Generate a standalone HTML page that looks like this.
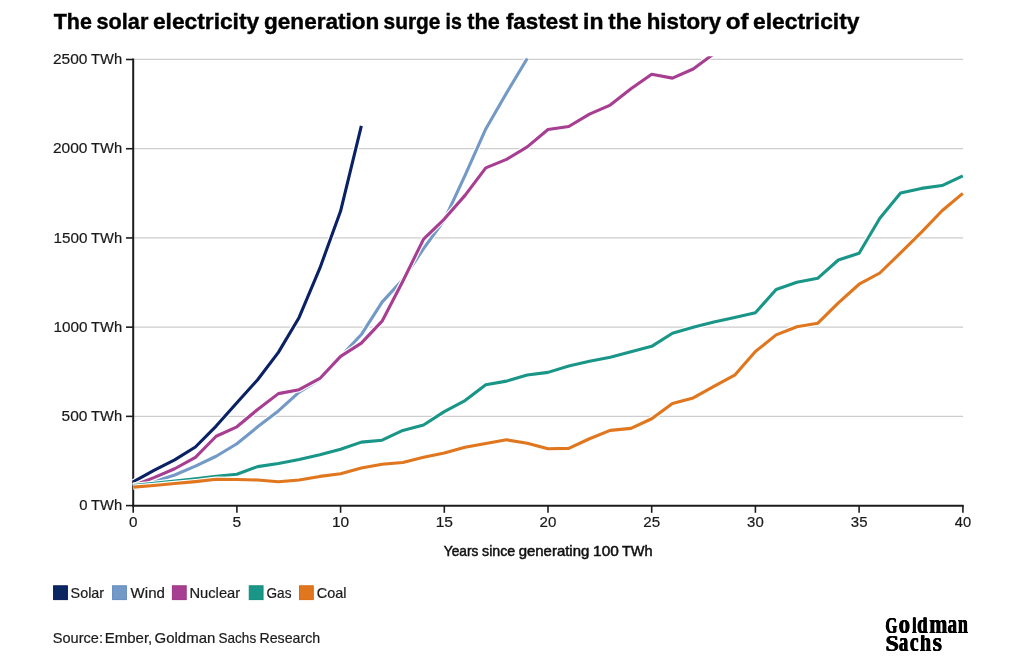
<!DOCTYPE html>
<html><head><meta charset="utf-8"><title>Solar surge</title>
<style>
html,body{margin:0;padding:0;background:#fff;}
body{width:1024px;height:663px;overflow:hidden;font-family:"Liberation Sans",sans-serif;}
svg{display:block;will-change:transform;}
text{font-family:"Liberation Sans",sans-serif;}
</style></head><body>
<svg width="1024" height="663" viewBox="0 0 1024 663">
<rect width="1024" height="663" fill="#fff"/>

<g stroke="#cdcdcd" stroke-width="1.3">
<line x1="134" x2="963" y1="416.28" y2="416.28"/>
<line x1="134" x2="963" y1="327.06" y2="327.06"/>
<line x1="134" x2="963" y1="237.84" y2="237.84"/>
<line x1="134" x2="963" y1="148.62" y2="148.62"/>
<line x1="134" x2="963" y1="59.40" y2="59.40"/>
</g>
<g stroke="#1c1c1c" stroke-width="2">
<line x1="133.20" x2="133.20" y1="58.50" y2="506.70"/>
<line x1="132.20" x2="963.70" y1="505.70" y2="505.70"/>
</g>
<g stroke="#1c1c1c" stroke-width="1.6">
<line x1="126" x2="133" y1="505.60" y2="505.60"/>
<line x1="126" x2="133" y1="416.38" y2="416.38"/>
<line x1="126" x2="133" y1="327.16" y2="327.16"/>
<line x1="126" x2="133" y1="237.94" y2="237.94"/>
<line x1="126" x2="133" y1="148.72" y2="148.72"/>
<line x1="126" x2="133" y1="59.50" y2="59.50"/>
<line x1="133.20" x2="133.20" y1="505.50" y2="512.8"/>
<line x1="236.90" x2="236.90" y1="505.50" y2="512.8"/>
<line x1="340.60" x2="340.60" y1="505.50" y2="512.8"/>
<line x1="444.30" x2="444.30" y1="505.50" y2="512.8"/>
<line x1="548.00" x2="548.00" y1="505.50" y2="512.8"/>
<line x1="651.70" x2="651.70" y1="505.50" y2="512.8"/>
<line x1="755.40" x2="755.40" y1="505.50" y2="512.8"/>
<line x1="859.10" x2="859.10" y1="505.50" y2="512.8"/>
<line x1="962.90" x2="962.90" y1="505.50" y2="512.8"/>
</g>
<defs><clipPath id="cp"><rect x="120" y="56.2" width="860" height="460"/></clipPath></defs>
<g fill="none" stroke-linejoin="round" stroke-linecap="butt" clip-path="url(#cp)">
<path d="M133.20 481.95 L153.94 470.35 L174.68 459.82 L195.42 446.97 L216.16 426.09 L236.90 402.72 L257.64 379.70 L278.38 352.40 L299.12 317.42 L319.86 268.17 L340.60 211.07 L361.34 125.78" stroke="#fff" stroke-width="5.4"/>
<path d="M133.20 481.95 L153.94 470.35 L174.68 459.82 L195.42 446.97 L216.16 426.09 L236.90 402.72 L257.64 379.70 L278.38 352.40 L299.12 317.42 L319.86 268.17 L340.60 211.07 L361.34 125.78" stroke="#0a2265" stroke-width="3.1"/>
<path d="M133.20 486.94 L153.94 481.77 L174.68 474.99 L195.42 466.06 L216.16 456.25 L236.90 443.76 L257.64 426.81 L278.38 410.93 L299.12 392.19 L319.86 379.52 L340.60 356.50 L361.34 334.55 L382.08 302.08 L402.82 279.59 L423.56 248.55 L444.30 220.00 L465.04 175.39 L485.78 128.99 L506.52 92.95 L527.26 58.51" stroke="#fff" stroke-width="5.4"/>
<path d="M133.20 486.94 L153.94 481.77 L174.68 474.99 L195.42 466.06 L216.16 456.25 L236.90 443.76 L257.64 426.81 L278.38 410.93 L299.12 392.19 L319.86 379.52 L340.60 356.50 L361.34 334.55 L382.08 302.08 L402.82 279.59 L423.56 248.55 L444.30 220.00 L465.04 175.39 L485.78 128.99 L506.52 92.95 L527.26 58.51" stroke="#7399c6" stroke-width="3.1"/>
<path d="M133.20 485.69 L153.94 477.66 L174.68 468.74 L195.42 457.32 L216.16 436.27 L236.90 426.81 L257.64 409.50 L278.38 393.62 L299.12 389.69 L319.86 378.45 L340.60 356.32 L361.34 343.12 L382.08 321.17 L402.82 281.20 L423.56 239.09 L444.30 219.10 L465.04 195.37 L485.78 167.89 L506.52 159.33 L527.26 146.84 L548.00 129.53 L568.74 126.49 L589.48 114.18 L610.22 105.08 L630.96 88.84 L651.70 74.21 L672.44 78.14 L693.18 69.04 L713.92 53.69" stroke="#fff" stroke-width="5.4"/>
<path d="M133.20 485.69 L153.94 477.66 L174.68 468.74 L195.42 457.32 L216.16 436.27 L236.90 426.81 L257.64 409.50 L278.38 393.62 L299.12 389.69 L319.86 378.45 L340.60 356.32 L361.34 343.12 L382.08 321.17 L402.82 281.20 L423.56 239.09 L444.30 219.10 L465.04 195.37 L485.78 167.89 L506.52 159.33 L527.26 146.84 L548.00 129.53 L568.74 126.49 L589.48 114.18 L610.22 105.08 L630.96 88.84 L651.70 74.21 L672.44 78.14 L693.18 69.04 L713.92 53.69" stroke="#a73e92" stroke-width="3.1"/>
<path d="M133.20 485.51 L153.94 483.37 L174.68 481.05 L195.42 478.73 L216.16 476.24 L236.90 474.27 L257.64 466.60 L278.38 463.57 L299.12 459.46 L319.86 454.82 L340.60 449.29 L361.34 442.15 L382.08 440.19 L402.82 430.38 L423.56 425.02 L444.30 411.64 L465.04 400.58 L485.78 384.70 L506.52 381.13 L527.26 375.06 L548.00 372.38 L568.74 365.96 L589.48 361.32 L610.22 357.22 L630.96 351.68 L651.70 346.33 L672.44 333.31 L693.18 327.24 L713.92 322.06 L734.66 317.42 L755.40 312.78 L776.14 289.41 L796.88 282.27 L817.62 278.35 L838.36 259.97 L859.10 253.19 L879.84 218.21 L900.58 193.05 L921.32 188.41 L942.06 185.56 L962.80 175.92" stroke="#fff" stroke-width="5.4"/>
<path d="M133.20 485.51 L153.94 483.37 L174.68 481.05 L195.42 478.73 L216.16 476.24 L236.90 474.27 L257.64 466.60 L278.38 463.57 L299.12 459.46 L319.86 454.82 L340.60 449.29 L361.34 442.15 L382.08 440.19 L402.82 430.38 L423.56 425.02 L444.30 411.64 L465.04 400.58 L485.78 384.70 L506.52 381.13 L527.26 375.06 L548.00 372.38 L568.74 365.96 L589.48 361.32 L610.22 357.22 L630.96 351.68 L651.70 346.33 L672.44 333.31 L693.18 327.24 L713.92 322.06 L734.66 317.42 L755.40 312.78 L776.14 289.41 L796.88 282.27 L817.62 278.35 L838.36 259.97 L859.10 253.19 L879.84 218.21 L900.58 193.05 L921.32 188.41 L942.06 185.56 L962.80 175.92" stroke="#1a9688" stroke-width="3.1"/>
<path d="M133.20 487.12 L153.94 485.51 L174.68 483.55 L195.42 481.59 L216.16 479.27 L236.90 479.45 L257.64 479.98 L278.38 481.77 L299.12 479.98 L319.86 476.41 L340.60 473.74 L361.34 468.03 L382.08 464.28 L402.82 462.50 L423.56 457.32 L444.30 453.04 L465.04 447.33 L485.78 443.58 L506.52 439.83 L527.26 443.22 L548.00 448.76 L568.74 448.40 L589.48 438.76 L610.22 430.38 L630.96 428.41 L651.70 418.78 L672.44 403.61 L693.18 397.90 L713.92 386.30 L734.66 375.24 L755.40 351.51 L776.14 334.91 L796.88 326.70 L817.62 323.31 L838.36 302.79 L859.10 284.23 L879.84 272.99 L900.58 252.83 L921.32 232.31 L942.06 210.72 L962.80 193.41" stroke="#fff" stroke-width="5.4"/>
<path d="M133.20 487.12 L153.94 485.51 L174.68 483.55 L195.42 481.59 L216.16 479.27 L236.90 479.45 L257.64 479.98 L278.38 481.77 L299.12 479.98 L319.86 476.41 L340.60 473.74 L361.34 468.03 L382.08 464.28 L402.82 462.50 L423.56 457.32 L444.30 453.04 L465.04 447.33 L485.78 443.58 L506.52 439.83 L527.26 443.22 L548.00 448.76 L568.74 448.40 L589.48 438.76 L610.22 430.38 L630.96 428.41 L651.70 418.78 L672.44 403.61 L693.18 397.90 L713.92 386.30 L734.66 375.24 L755.40 351.51 L776.14 334.91 L796.88 326.70 L817.62 323.31 L838.36 302.79 L859.10 284.23 L879.84 272.99 L900.58 252.83 L921.32 232.31 L942.06 210.72 L962.80 193.41" stroke="#e0761e" stroke-width="3.1"/>
</g>
<rect x="53.60" y="585.8" width="13.8" height="13.8" fill="#0a2762" stroke="#061a58" stroke-width="1"/>
<rect x="112.60" y="585.8" width="13.8" height="13.8" fill="#7399c6" stroke="#618cc0" stroke-width="1"/>
<rect x="172.40" y="585.8" width="13.8" height="13.8" fill="#a73e92" stroke="#9c3587" stroke-width="1"/>
<rect x="249.25" y="585.8" width="13.8" height="13.8" fill="#1a9688" stroke="#118c7e" stroke-width="1"/>
<rect x="299.50" y="585.8" width="13.8" height="13.8" fill="#e0761e" stroke="#d96c12" stroke-width="1"/>
<text x="53.74" y="29.30" style="font:bold 21.80px 'Liberation Sans'" textLength="38.18" lengthAdjust="spacingAndGlyphs" fill="#000" stroke="#000" stroke-width="0.4">The</text>
<text x="96.59" y="29.30" style="font:bold 21.80px 'Liberation Sans'" textLength="51.76" lengthAdjust="spacingAndGlyphs" fill="#000" stroke="#000" stroke-width="0.4">solar</text>
<text x="152.95" y="29.30" style="font:bold 21.80px 'Liberation Sans'" textLength="106.22" lengthAdjust="spacingAndGlyphs" fill="#000" stroke="#000" stroke-width="0.4">electricity</text>
<text x="264.05" y="29.30" style="font:bold 21.80px 'Liberation Sans'" textLength="115.27" lengthAdjust="spacingAndGlyphs" fill="#000" stroke="#000" stroke-width="0.4">generation</text>
<text x="383.62" y="29.30" style="font:bold 21.80px 'Liberation Sans'" textLength="56.88" lengthAdjust="spacingAndGlyphs" fill="#000" stroke="#000" stroke-width="0.4">surge</text>
<text x="445.48" y="29.30" style="font:bold 21.80px 'Liberation Sans'" textLength="16.33" lengthAdjust="spacingAndGlyphs" fill="#000" stroke="#000" stroke-width="0.4">is</text>
<text x="467.33" y="29.30" style="font:bold 21.80px 'Liberation Sans'" textLength="32.49" lengthAdjust="spacingAndGlyphs" fill="#000" stroke="#000" stroke-width="0.4">the</text>
<text x="505.91" y="29.30" style="font:bold 21.80px 'Liberation Sans'" textLength="72.11" lengthAdjust="spacingAndGlyphs" fill="#000" stroke="#000" stroke-width="0.4">fastest</text>
<text x="583.06" y="29.30" style="font:bold 21.80px 'Liberation Sans'" textLength="20.39" lengthAdjust="spacingAndGlyphs" fill="#000" stroke="#000" stroke-width="0.4">in</text>
<text x="608.33" y="29.30" style="font:bold 21.80px 'Liberation Sans'" textLength="33.11" lengthAdjust="spacingAndGlyphs" fill="#000" stroke="#000" stroke-width="0.4">the</text>
<text x="646.70" y="29.30" style="font:bold 21.80px 'Liberation Sans'" textLength="74.48" lengthAdjust="spacingAndGlyphs" fill="#000" stroke="#000" stroke-width="0.4">history</text>
<text x="725.70" y="29.30" style="font:bold 21.80px 'Liberation Sans'" textLength="22.90" lengthAdjust="spacingAndGlyphs" fill="#000" stroke="#000" stroke-width="0.4">of</text>
<text x="753.05" y="29.30" style="font:bold 21.80px 'Liberation Sans'" textLength="106.42" lengthAdjust="spacingAndGlyphs" fill="#000" stroke="#000" stroke-width="0.4">electricity</text>
<text x="79.18" y="510.30" style="font:normal 14.60px 'Liberation Sans'" textLength="8.26" lengthAdjust="spacingAndGlyphs" fill="#1a1a1a" stroke="#1a1a1a" stroke-width="0.2">0</text>
<text x="91.01" y="510.30" style="font:normal 14.60px 'Liberation Sans'" textLength="31.10" lengthAdjust="spacingAndGlyphs" fill="#1a1a1a" stroke="#1a1a1a" stroke-width="0.2">TWh</text>
<text x="61.58" y="421.08" style="font:normal 14.60px 'Liberation Sans'" textLength="25.88" lengthAdjust="spacingAndGlyphs" fill="#1a1a1a" stroke="#1a1a1a" stroke-width="0.2">500</text>
<text x="91.01" y="421.08" style="font:normal 14.60px 'Liberation Sans'" textLength="31.10" lengthAdjust="spacingAndGlyphs" fill="#1a1a1a" stroke="#1a1a1a" stroke-width="0.2">TWh</text>
<text x="53.51" y="331.86" style="font:normal 14.60px 'Liberation Sans'" textLength="33.95" lengthAdjust="spacingAndGlyphs" fill="#1a1a1a" stroke="#1a1a1a" stroke-width="0.2">1000</text>
<text x="91.01" y="331.86" style="font:normal 14.60px 'Liberation Sans'" textLength="31.10" lengthAdjust="spacingAndGlyphs" fill="#1a1a1a" stroke="#1a1a1a" stroke-width="0.2">TWh</text>
<text x="53.51" y="242.64" style="font:normal 14.60px 'Liberation Sans'" textLength="33.95" lengthAdjust="spacingAndGlyphs" fill="#1a1a1a" stroke="#1a1a1a" stroke-width="0.2">1500</text>
<text x="91.01" y="242.64" style="font:normal 14.60px 'Liberation Sans'" textLength="31.10" lengthAdjust="spacingAndGlyphs" fill="#1a1a1a" stroke="#1a1a1a" stroke-width="0.2">TWh</text>
<text x="52.92" y="153.42" style="font:normal 14.60px 'Liberation Sans'" textLength="34.54" lengthAdjust="spacingAndGlyphs" fill="#1a1a1a" stroke="#1a1a1a" stroke-width="0.2">2000</text>
<text x="91.01" y="153.42" style="font:normal 14.60px 'Liberation Sans'" textLength="31.10" lengthAdjust="spacingAndGlyphs" fill="#1a1a1a" stroke="#1a1a1a" stroke-width="0.2">TWh</text>
<text x="52.92" y="64.20" style="font:normal 14.60px 'Liberation Sans'" textLength="34.54" lengthAdjust="spacingAndGlyphs" fill="#1a1a1a" stroke="#1a1a1a" stroke-width="0.2">2500</text>
<text x="91.01" y="64.20" style="font:normal 14.60px 'Liberation Sans'" textLength="31.10" lengthAdjust="spacingAndGlyphs" fill="#1a1a1a" stroke="#1a1a1a" stroke-width="0.2">TWh</text>
<text x="128.97" y="526.70" style="font:normal 14.60px 'Liberation Sans'" textLength="8.49" lengthAdjust="spacingAndGlyphs" fill="#1a1a1a" stroke="#1a1a1a" stroke-width="0.2">0</text>
<text x="232.58" y="526.70" style="font:normal 14.60px 'Liberation Sans'" textLength="8.66" lengthAdjust="spacingAndGlyphs" fill="#1a1a1a" stroke="#1a1a1a" stroke-width="0.2">5</text>
<text x="331.99" y="526.70" style="font:normal 14.60px 'Liberation Sans'" textLength="17.22" lengthAdjust="spacingAndGlyphs" fill="#1a1a1a" stroke="#1a1a1a" stroke-width="0.2">10</text>
<text x="435.68" y="526.70" style="font:normal 14.60px 'Liberation Sans'" textLength="17.31" lengthAdjust="spacingAndGlyphs" fill="#1a1a1a" stroke="#1a1a1a" stroke-width="0.2">15</text>
<text x="539.49" y="526.70" style="font:normal 14.60px 'Liberation Sans'" textLength="16.80" lengthAdjust="spacingAndGlyphs" fill="#1a1a1a" stroke="#1a1a1a" stroke-width="0.2">20</text>
<text x="643.19" y="526.70" style="font:normal 14.60px 'Liberation Sans'" textLength="16.88" lengthAdjust="spacingAndGlyphs" fill="#1a1a1a" stroke="#1a1a1a" stroke-width="0.2">25</text>
<text x="747.13" y="526.70" style="font:normal 14.60px 'Liberation Sans'" textLength="16.56" lengthAdjust="spacingAndGlyphs" fill="#1a1a1a" stroke="#1a1a1a" stroke-width="0.2">30</text>
<text x="850.83" y="526.70" style="font:normal 14.60px 'Liberation Sans'" textLength="16.64" lengthAdjust="spacingAndGlyphs" fill="#1a1a1a" stroke="#1a1a1a" stroke-width="0.2">35</text>
<text x="954.76" y="526.70" style="font:normal 14.60px 'Liberation Sans'" textLength="16.32" lengthAdjust="spacingAndGlyphs" fill="#1a1a1a" stroke="#1a1a1a" stroke-width="0.2">40</text>
<text x="443.83" y="555.70" style="font:normal 14.50px 'Liberation Sans'" textLength="34.55" lengthAdjust="spacingAndGlyphs" fill="#111" stroke="#111" stroke-width="0.5">Years</text>
<text x="482.05" y="555.70" style="font:normal 14.50px 'Liberation Sans'" textLength="33.14" lengthAdjust="spacingAndGlyphs" fill="#111" stroke="#111" stroke-width="0.5">since</text>
<text x="518.70" y="555.70" style="font:normal 14.50px 'Liberation Sans'" textLength="70.61" lengthAdjust="spacingAndGlyphs" fill="#111" stroke="#111" stroke-width="0.5">generating</text>
<text x="593.14" y="555.70" style="font:normal 14.50px 'Liberation Sans'" textLength="25.71" lengthAdjust="spacingAndGlyphs" fill="#111" stroke="#111" stroke-width="0.5">100</text>
<text x="621.91" y="555.70" style="font:normal 14.50px 'Liberation Sans'" textLength="30.68" lengthAdjust="spacingAndGlyphs" fill="#111" stroke="#111" stroke-width="0.5">TWh</text>
<text x="70.60" y="598.20" style="font:normal 14.30px 'Liberation Sans'" textLength="33.48" lengthAdjust="spacingAndGlyphs" fill="#1a1a1a" stroke="#1a1a1a" stroke-width="0.2">Solar</text>
<text x="130.60" y="598.20" style="font:normal 14.30px 'Liberation Sans'" textLength="34.32" lengthAdjust="spacingAndGlyphs" fill="#1a1a1a" stroke="#1a1a1a" stroke-width="0.2">Wind</text>
<text x="189.42" y="598.20" style="font:normal 14.30px 'Liberation Sans'" textLength="50.77" lengthAdjust="spacingAndGlyphs" fill="#1a1a1a" stroke="#1a1a1a" stroke-width="0.2">Nuclear</text>
<text x="266.52" y="598.20" style="font:normal 14.30px 'Liberation Sans'" textLength="24.96" lengthAdjust="spacingAndGlyphs" fill="#1a1a1a" stroke="#1a1a1a" stroke-width="0.2">Gas</text>
<text x="316.78" y="598.20" style="font:normal 14.30px 'Liberation Sans'" textLength="29.72" lengthAdjust="spacingAndGlyphs" fill="#1a1a1a" stroke="#1a1a1a" stroke-width="0.2">Coal</text>
<text x="52.74" y="642.80" style="font:normal 14.30px 'Liberation Sans'" textLength="50.24" lengthAdjust="spacingAndGlyphs" fill="#1a1a1a" stroke="#1a1a1a" stroke-width="0.2">Source:</text>
<text x="104.80" y="642.80" style="font:normal 14.30px 'Liberation Sans'" textLength="47.41" lengthAdjust="spacingAndGlyphs" fill="#1a1a1a" stroke="#1a1a1a" stroke-width="0.2">Ember,</text>
<text x="154.55" y="642.80" style="font:normal 14.30px 'Liberation Sans'" textLength="60.76" lengthAdjust="spacingAndGlyphs" fill="#1a1a1a" stroke="#1a1a1a" stroke-width="0.2">Goldman</text>
<text x="218.59" y="642.80" style="font:normal 14.30px 'Liberation Sans'" textLength="37.58" lengthAdjust="spacingAndGlyphs" fill="#1a1a1a" stroke="#1a1a1a" stroke-width="0.2">Sachs</text>
<text x="259.47" y="642.80" style="font:normal 14.30px 'Liberation Sans'" textLength="60.70" lengthAdjust="spacingAndGlyphs" fill="#1a1a1a" stroke="#1a1a1a" stroke-width="0.2">Research</text>
<defs><clipPath id="l1"><rect x="880" y="617.4" width="100" height="17.6"/></clipPath><clipPath id="l2"><rect x="880" y="635.3" width="100" height="18"/></clipPath></defs>
<g clip-path="url(#l1)">
<text x="884.90" y="632.80" style="font:bold 23.50px 'Liberation Serif'" textLength="12.05" lengthAdjust="spacingAndGlyphs" fill="#000">G</text>
<text x="885.30" y="632.80" style="font:bold 23.50px 'Liberation Serif'" textLength="12.05" lengthAdjust="spacingAndGlyphs" fill="#000">G</text>
<text x="885.70" y="632.80" style="font:bold 23.50px 'Liberation Serif'" textLength="12.05" lengthAdjust="spacingAndGlyphs" fill="#000">G</text>
<text x="898.30" y="632.80" style="font:bold 27.00px 'Liberation Serif'" textLength="11.40" lengthAdjust="spacingAndGlyphs" fill="#000">o</text>
<text x="898.70" y="632.80" style="font:bold 27.00px 'Liberation Serif'" textLength="11.40" lengthAdjust="spacingAndGlyphs" fill="#000">o</text>
<text x="899.10" y="632.80" style="font:bold 27.00px 'Liberation Serif'" textLength="11.40" lengthAdjust="spacingAndGlyphs" fill="#000">o</text>
<text x="911.66" y="632.80" style="font:bold 27.00px 'Liberation Serif'" textLength="4.45" lengthAdjust="spacingAndGlyphs" fill="#000">l</text>
<text x="912.06" y="632.80" style="font:bold 27.00px 'Liberation Serif'" textLength="4.45" lengthAdjust="spacingAndGlyphs" fill="#000">l</text>
<text x="912.46" y="632.80" style="font:bold 27.00px 'Liberation Serif'" textLength="4.45" lengthAdjust="spacingAndGlyphs" fill="#000">l</text>
<text x="916.86" y="632.80" style="font:bold 27.00px 'Liberation Serif'" textLength="10.24" lengthAdjust="spacingAndGlyphs" fill="#000">d</text>
<text x="917.26" y="632.80" style="font:bold 27.00px 'Liberation Serif'" textLength="10.24" lengthAdjust="spacingAndGlyphs" fill="#000">d</text>
<text x="917.66" y="632.80" style="font:bold 27.00px 'Liberation Serif'" textLength="10.24" lengthAdjust="spacingAndGlyphs" fill="#000">d</text>
<text x="928.96" y="632.80" style="font:bold 27.00px 'Liberation Serif'" textLength="18.02" lengthAdjust="spacingAndGlyphs" fill="#000">m</text>
<text x="929.36" y="632.80" style="font:bold 27.00px 'Liberation Serif'" textLength="18.02" lengthAdjust="spacingAndGlyphs" fill="#000">m</text>
<text x="929.76" y="632.80" style="font:bold 27.00px 'Liberation Serif'" textLength="18.02" lengthAdjust="spacingAndGlyphs" fill="#000">m</text>
<text x="947.13" y="632.80" style="font:bold 27.00px 'Liberation Serif'" textLength="9.45" lengthAdjust="spacingAndGlyphs" fill="#000">a</text>
<text x="947.53" y="632.80" style="font:bold 27.00px 'Liberation Serif'" textLength="9.45" lengthAdjust="spacingAndGlyphs" fill="#000">a</text>
<text x="947.93" y="632.80" style="font:bold 27.00px 'Liberation Serif'" textLength="9.45" lengthAdjust="spacingAndGlyphs" fill="#000">a</text>
<text x="957.55" y="632.80" style="font:bold 27.00px 'Liberation Serif'" textLength="9.95" lengthAdjust="spacingAndGlyphs" fill="#000">n</text>
<text x="957.95" y="632.80" style="font:bold 27.00px 'Liberation Serif'" textLength="9.95" lengthAdjust="spacingAndGlyphs" fill="#000">n</text>
<text x="958.35" y="632.80" style="font:bold 27.00px 'Liberation Serif'" textLength="9.95" lengthAdjust="spacingAndGlyphs" fill="#000">n</text>
</g><g clip-path="url(#l2)">
<text x="885.10" y="651.00" style="font:bold 23.50px 'Liberation Serif'" textLength="13.40" lengthAdjust="spacingAndGlyphs" fill="#000">S</text>
<text x="885.50" y="651.00" style="font:bold 23.50px 'Liberation Serif'" textLength="13.40" lengthAdjust="spacingAndGlyphs" fill="#000">S</text>
<text x="885.90" y="651.00" style="font:bold 23.50px 'Liberation Serif'" textLength="13.40" lengthAdjust="spacingAndGlyphs" fill="#000">S</text>
<text x="898.54" y="651.00" style="font:bold 27.00px 'Liberation Serif'" textLength="9.34" lengthAdjust="spacingAndGlyphs" fill="#000">a</text>
<text x="898.94" y="651.00" style="font:bold 27.00px 'Liberation Serif'" textLength="9.34" lengthAdjust="spacingAndGlyphs" fill="#000">a</text>
<text x="899.34" y="651.00" style="font:bold 27.00px 'Liberation Serif'" textLength="9.34" lengthAdjust="spacingAndGlyphs" fill="#000">a</text>
<text x="909.52" y="651.00" style="font:bold 27.00px 'Liberation Serif'" textLength="8.65" lengthAdjust="spacingAndGlyphs" fill="#000">c</text>
<text x="909.92" y="651.00" style="font:bold 27.00px 'Liberation Serif'" textLength="8.65" lengthAdjust="spacingAndGlyphs" fill="#000">c</text>
<text x="910.32" y="651.00" style="font:bold 27.00px 'Liberation Serif'" textLength="8.65" lengthAdjust="spacingAndGlyphs" fill="#000">c</text>
<text x="919.40" y="651.00" style="font:bold 27.00px 'Liberation Serif'" textLength="11.23" lengthAdjust="spacingAndGlyphs" fill="#000">h</text>
<text x="919.80" y="651.00" style="font:bold 27.00px 'Liberation Serif'" textLength="11.23" lengthAdjust="spacingAndGlyphs" fill="#000">h</text>
<text x="920.20" y="651.00" style="font:bold 27.00px 'Liberation Serif'" textLength="11.23" lengthAdjust="spacingAndGlyphs" fill="#000">h</text>
<text x="932.28" y="651.00" style="font:bold 27.00px 'Liberation Serif'" textLength="9.29" lengthAdjust="spacingAndGlyphs" fill="#000">s</text>
<text x="932.68" y="651.00" style="font:bold 27.00px 'Liberation Serif'" textLength="9.29" lengthAdjust="spacingAndGlyphs" fill="#000">s</text>
<text x="933.08" y="651.00" style="font:bold 27.00px 'Liberation Serif'" textLength="9.29" lengthAdjust="spacingAndGlyphs" fill="#000">s</text>
</g>
</svg>
</body></html>
